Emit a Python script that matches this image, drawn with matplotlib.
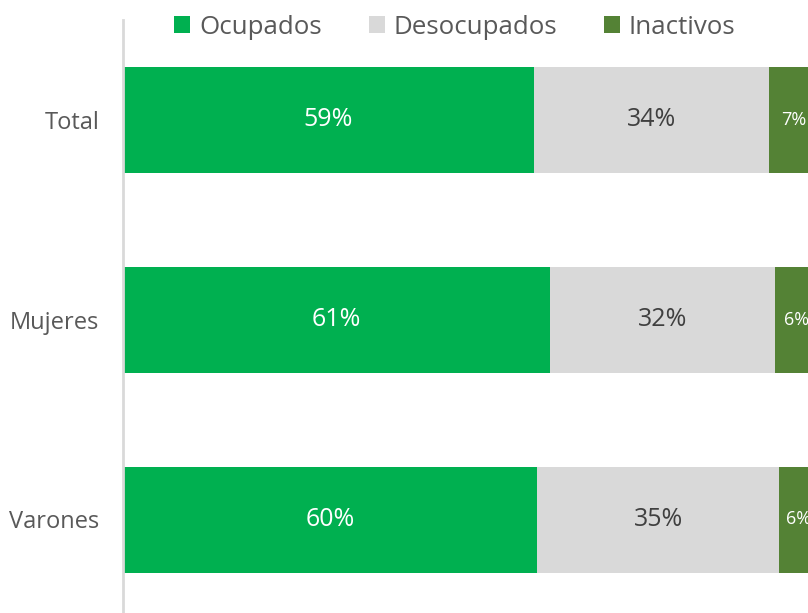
import matplotlib.pyplot as plt

plt.rcParams['font.family'] = ['Open Sans', 'DejaVu Sans']

categories = ['Total', 'Mujeres', 'Varones']
ocupados = [59.1, 61.4, 59.6]
desocupados = [33.8, 32.4, 34.8]
inactivos = [7.1, 6.2, 5.6]
labels_ocu = ['59%', '61%', '60%']
labels_des = ['34%', '32%', '35%']
labels_ina = ['7%', '6%', '6%']

series = [
    ('Ocupados', ocupados, labels_ocu, '#00B050', 'white'),
    ('Desocupados', desocupados, labels_des, '#D9D9D9', '#404040'),
    ('Inactivos', inactivos, labels_ina, '#548235', 'white'),
]

W, H = 808, 613
fig = plt.figure(figsize=(W / 100, H / 100), dpi=100)
# axes runs past the right edge of the figure, like the cropped original
ax = fig.add_axes([123 / W, (H - 619.5) / H, 695 / W, 600 / H])

y = list(range(len(categories)))
left = [0.0] * len(categories)
for name, vals, labs, color, tcol in series:
    bars = ax.barh(y, vals, left=left, height=0.53, color=color, label=name)
    for b, lab in zip(bars, labs):
        fs = 13 if name == 'Inactivos' else 18
        ax.text(b.get_x() + b.get_width() / 2, b.get_y() + b.get_height() / 2, lab,
                ha='center', va='center', color=tcol, fontsize=fs, clip_on=False)
    left = [l + v for l, v in zip(left, vals)]

ax.set_xlim(0, 100)
ax.set_ylim(-0.5, 2.5)
ax.invert_yaxis()
ax.set_yticks(y)
ax.set_yticklabels(categories, fontsize=17, color='#595959')
ax.tick_params(axis='y', length=0, pad=17)
ax.set_xticks([])
for s in ['top', 'right', 'bottom']:
    ax.spines[s].set_visible(False)
ax.spines['left'].set_color('#D9D9D9')
ax.spines['left'].set_linewidth(2)

leg = fig.legend(loc='center', bbox_to_anchor=(455 / W, 1 - 27 / H), ncol=3, frameon=False,
                 fontsize=18.6, handlelength=0.62, handleheight=0.62, handletextpad=0.35,
                 columnspacing=1.8, labelcolor='#595959')

fig.savefig('out.png', dpi=100)
